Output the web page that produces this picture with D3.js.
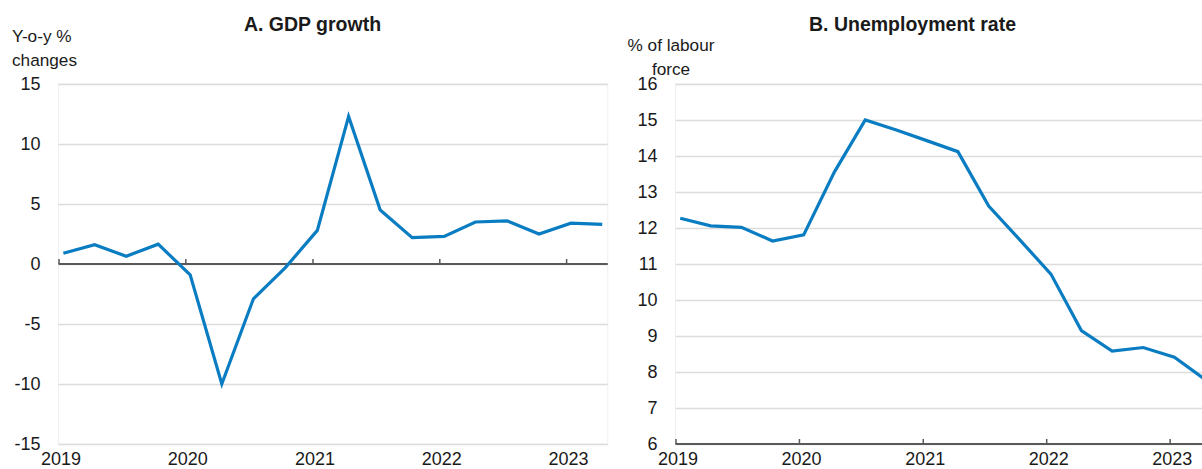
<!DOCTYPE html>
<html>
<head>
<meta charset="utf-8">
<script src="https://cdn.jsdelivr.net/npm/d3@7"></script>
<style>
  html, body { margin: 0; padding: 0; background: #ffffff; }
  svg { display: block; }
  text { font-family: "Liberation Sans", Arial, sans-serif; fill: #1a1a1a; }
</style>
</head>
<body>
<svg id="chart" width="1202" height="469"></svg>
<script>
// ---- Data ----
const quarters = ["2019Q1","2019Q2","2019Q3","2019Q4",
                  "2020Q1","2020Q2","2020Q3","2020Q4",
                  "2021Q1","2021Q2","2021Q3","2021Q4",
                  "2022Q1","2022Q2","2022Q3","2022Q4",
                  "2023Q1","2023Q2"];
const gdpGrowth = [0.9, 1.6, 0.65, 1.65,
                   -0.9, -10.0, -2.9, -0.3,
                   2.8, 12.3, 4.5, 2.2,
                   2.3, 3.5, 3.6, 2.5,
                   3.4, 3.3];
const unemploymentRate = [12.27, 12.06, 12.02, 11.64,
                          11.81, 13.56, 15.0, 14.72,
                          14.42, 14.12, 12.61, 11.67,
                          10.72, 9.15, 8.58, 8.68,
                          8.41, 7.8];
const yearTicks = [2019, 2020, 2021, 2022, 2023];
const gdpTicks = [-15, -10, -5, 0, 5, 10, 15];
const unempTicks = [6, 7, 8, 9, 10, 11, 12, 13, 14, 15, 16];
const titles = ["A. GDP growth", "B. Unemployment rate"];
const yTitleA = ["Y-o-y %", "changes"];
const yTitleB = ["% of labour", "force"];

// ---- Helpers ----
const qDate = q => new Date(Date.UTC(+q.slice(0, 4), (+q.slice(5) - 1) * 3, 15));
const yearDate = y => new Date(Date.UTC(y, 0, 1));
const xDomain = [new Date(Date.UTC(2019, 0, 1)), new Date(Date.UTC(2023, 4, 1))];

const svg = d3.select("#chart");
const BLUE = "#0a7dc2";
const GRID = "#dcdcdc";
const AXIS = "#595959";

function panel(opts) {
  const g = svg.append("g");
  const x = d3.scaleUtc().domain(xDomain).range([opts.left, opts.right]);
  const y = d3.scaleLinear().domain(opts.yDomain).range([opts.bottom, opts.top]);

  // faint plot border
  g.append("rect")
    .attr("x", opts.left).attr("y", opts.top)
    .attr("width", opts.right - opts.left).attr("height", opts.bottom - opts.top)
    .attr("fill", "none").attr("stroke", "#f0f0f0").attr("stroke-width", 1);

  // gridlines + y labels
  const yAxis = d3.axisLeft(y).tickValues(opts.yTicks)
    .tickSize(-(opts.right - opts.left)).tickPadding(18).tickFormat(d => String(d));
  const ga = g.append("g").attr("transform", `translate(${opts.left},0)`).call(yAxis);
  ga.select(".domain").remove();
  ga.selectAll(".tick line").attr("stroke", GRID).attr("stroke-width", 1.6);
  ga.selectAll(".tick text").attr("font-size", 18).attr("fill", "#1a1a1a")
    .style("font-family", '"Liberation Sans", Arial, sans-serif');

  // x axis line with upward ticks
  const axisY = y(opts.axisAt);
  const xAxis = d3.axisBottom(x).tickValues(yearTicks.map(yearDate))
    .tickSize(-5).tickFormat("");
  const gx = g.append("g").attr("transform", `translate(0,${axisY})`).call(xAxis);
  gx.select(".domain").attr("stroke", AXIS).attr("stroke-width", 1.8)
    .attr("d", `M${opts.left},0H${opts.right}`);
  gx.selectAll(".tick line").attr("stroke", AXIS).attr("stroke-width", 1.5);

  // x labels at bottom
  const xLab = d3.axisBottom(x).tickValues(yearTicks.map(yearDate))
    .tickSize(0).tickPadding(0).tickFormat(d3.utcFormat("%Y"));
  const gl = g.append("g").attr("transform", `translate(2,${opts.bottom + 8})`).call(xLab);
  gl.select(".domain").remove();
  gl.selectAll(".tick text").attr("font-size", 18).attr("fill", "#1a1a1a")
    .style("font-family", '"Liberation Sans", Arial, sans-serif');

  // line
  const line = d3.line().x((d, i) => x(qDate(quarters[i]))).y(d => y(d));
  g.append("path").datum(opts.values)
    .attr("d", line).attr("fill", "none")
    .attr("stroke", BLUE).attr("stroke-width", 3.2)
    .attr("stroke-linejoin", "miter");

  // title
  g.append("text").attr("x", opts.titleX).attr("y", 31)
    .attr("text-anchor", "middle").attr("font-size", 19.5).attr("font-weight", "bold")
    .attr("fill", "#111").text(opts.title);

  // y-axis title
  opts.yTitle.forEach((t, i) => {
    g.append("text").attr("x", opts.yTitleX).attr("y", opts.yTitleY + i * 23.5)
      .attr("text-anchor", opts.yTitleAnchor).attr("font-size", 17.2)
      .text(t);
  });
}

panel({
  left: 58.5, right: 607.8, top: 84, bottom: 444,
  yDomain: [-15, 15], yTicks: gdpTicks, axisAt: 0,
  values: gdpGrowth, title: titles[0], titleX: 312.5,
  yTitle: yTitleA, yTitleX: 12, yTitleY: 42, yTitleAnchor: "start"
});

panel({
  left: 675.5, right: 675.5 + 123.4 * (4 + 1/3), top: 84, bottom: 444,
  yDomain: [6, 16], yTicks: unempTicks, axisAt: 6,
  values: unemploymentRate, title: titles[1], titleX: 912.5,
  yTitle: yTitleB, yTitleX: 671, yTitleY: 51, yTitleAnchor: "middle"
});
</script>
</body>
</html>
